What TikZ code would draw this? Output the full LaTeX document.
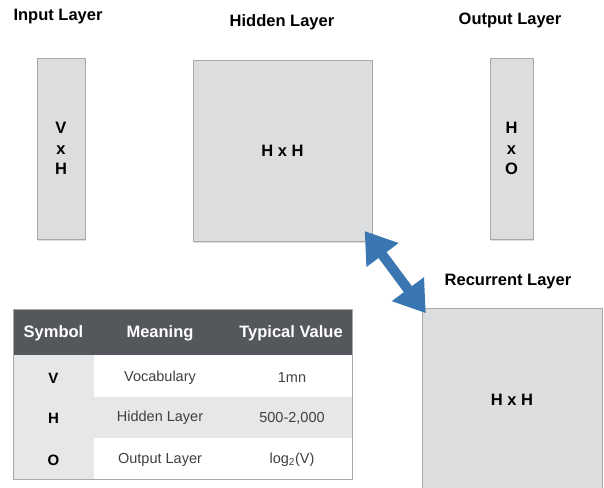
\documentclass[tikz,border=0pt]{standalone}
\usepackage{fontspec}
\setmainfont{Liberation Sans}
\usetikzlibrary{arrows.meta,shadows}

\definecolor{boxgray}{HTML}{DCDDDF}
\definecolor{edgegray}{HTML}{A9A9AB}
\definecolor{headgray}{HTML}{54575C}
\definecolor{rowgray}{HTML}{E6E7E8}
\definecolor{arrowblue}{HTML}{3A77B2}

\tikzset{
  layerbox/.style={draw=edgegray, fill=boxgray, line width=0.8pt, inner sep=0pt,
    drop shadow={shadow xshift=1.2pt, shadow yshift=-1.5pt, opacity=0.25},
    font=\fontsize{16.5}{20.5}\selectfont\bfseries, align=center},
  title/.style={font=\fontsize{16.5}{19}\selectfont\bfseries},
  cell/.style={font=\fontsize{14.5}{17}\selectfont, text=black!75},
  symcell/.style={font=\fontsize{15}{18}\selectfont\bfseries},
  headcell/.style={font=\fontsize{16.5}{19}\selectfont\bfseries, text=white},
}

\begin{document}
\begin{tikzpicture}[x=1pt, y=-1pt]
            \useasboundingbox (0,0) rectangle (604,487);

            % layers
            \node[layerbox, minimum width=48pt, minimum height=181pt] (inp) at (61,148.5) {V\\x\\H};
            \node[layerbox, minimum width=179pt, minimum height=181pt] (hid) at (282.5,150.5) {H x H};
            \node[layerbox, minimum width=43pt, minimum height=181pt] (out) at (511.5,148.5) {H\\x\\O};
            \node[layerbox, minimum width=180pt, minimum height=200pt] (rec) at (512,408) {};
            \node[font=\fontsize{16.5}{19}\selectfont\bfseries] (reclabel) at (512,400) {H x H};

            \node[title] (inptitle) at (58,17) {Input Layer};
            \node[title] (hidtitle) at (282,22) {Hidden Layer};
            \node[title] (outtitle) at (510,20) {Output Layer};
            \node[title] (rectitle) at (508,282) {Recurrent Layer};

            % recurrence
            \draw[arrowblue, line width=10pt,
                  {Triangle[width=38pt,length=30pt]}-{Triangle[width=38pt,length=30pt]},
                  shorten <=-13pt, shorten >=-7pt] (hid.south east) -- (rec.north west);

            % table
            \fill[headgray] (13,309) rectangle (352,355);
            \fill[rowgray] (13,355) rectangle (94,479);
            \fill[rowgray] (94,397) rectangle (352,438);
            \draw[edgegray, line width=0.8pt] (13,309) rectangle (352,479);

            \node[headcell] (hsym) at (53.5,333) {Symbol};
            \node[headcell] (hmean) at (160,333) {Meaning};
            \node[headcell] (hval) at (291,333) {Typical Value};

            \node[symcell] (sv) at (53.5,378) {V};
            \node[symcell] (sh) at (53.5,418) {H};
            \node[symcell] (so) at (53.5,460) {O};

            \node[cell] (mv) at (160,378) {Vocabulary};
            \node[cell] (mh) at (160,418) {Hidden Layer};
            \node[cell] (mo) at (160,460) {Output Layer};

            \node[cell] (vv) at (292,378) {1mn};
            \node[cell] (vh) at (292,418) {500-2,000};
            \node[cell] (vo) at (292,460) {log\textsubscript{2}(V)};
        \end{tikzpicture}
\end{document}
